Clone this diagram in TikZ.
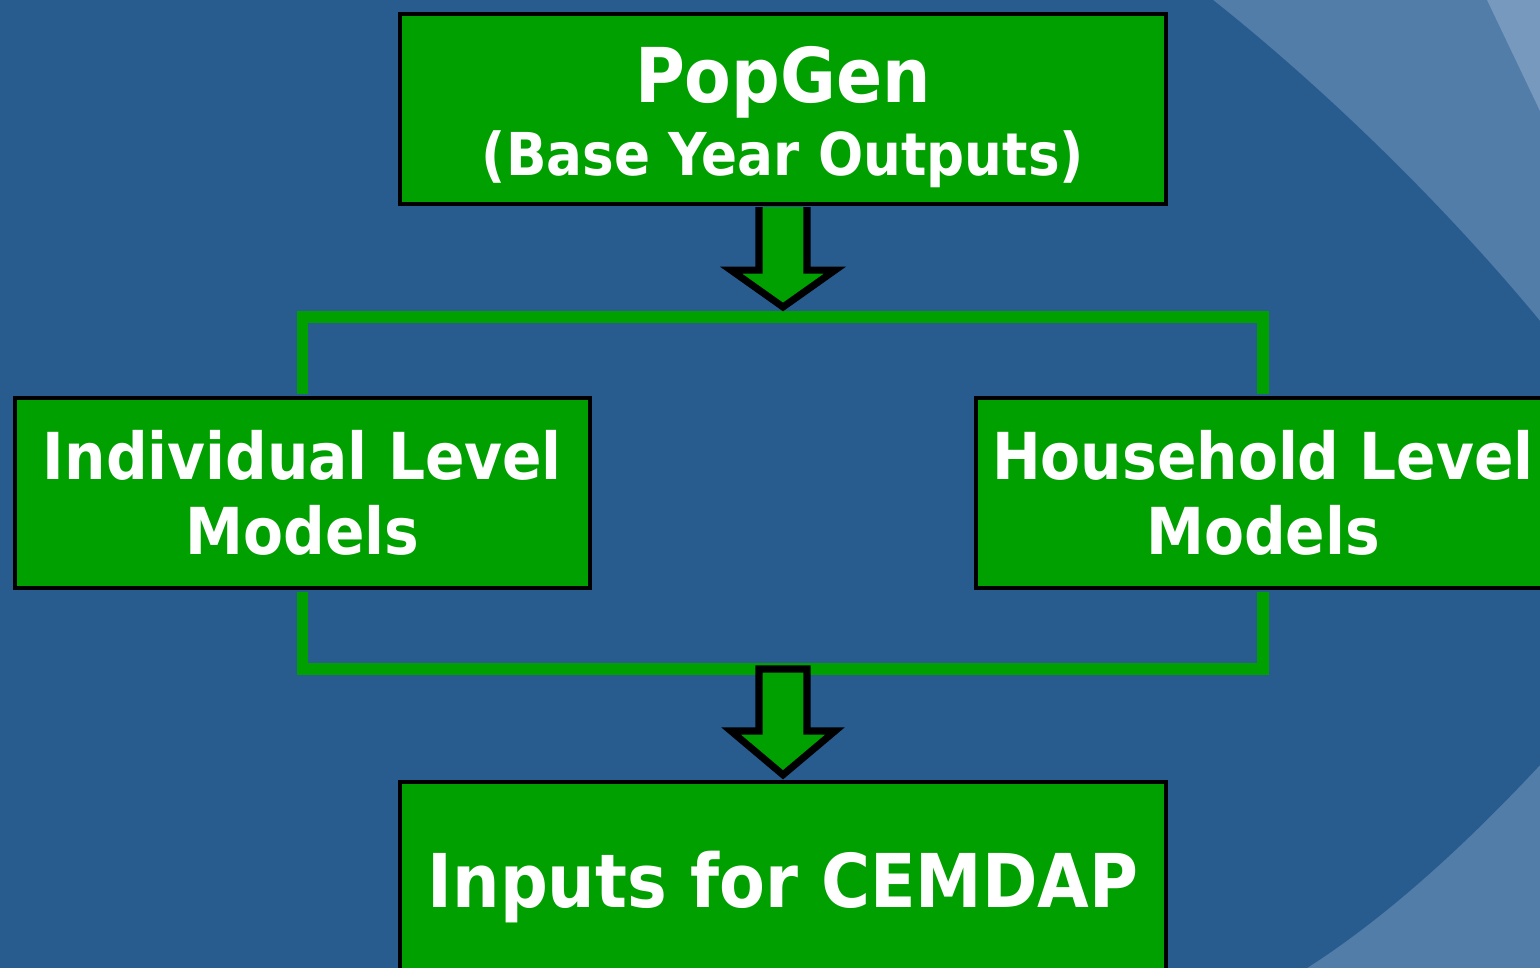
\documentclass[tikz,border=0pt]{standalone}
\usepackage{fontspec}
\setmainfont{DejaVu Sans Condensed}
\usetikzlibrary{calc,positioning}
\definecolor{boxgreen}{RGB}{0,160,0}
\definecolor{bgdark}{RGB}{40,92,143}
\definecolor{bgmid}{RGB}{81,125,168}
\definecolor{bglight}{RGB}{120,153,190}

\begin{document}
\begin{tikzpicture}[x=0.01cm,y=-0.01cm,
box/.style={draw=black,line width=1.2pt,fill=boxgreen,text=white,
  align=center,inner sep=0pt,minimum height=1.9cm},
bracket/.style={draw=boxgreen,line width=3.2pt},
blockarrow/.style={fill=boxgreen,draw=black,line width=2pt,line join=miter}]
\useasboundingbox (0,0) rectangle (1540,968);
\clip (0,0) rectangle (1540,968);
\fill[bgmid] (0,0) rectangle (1540,968);
\fill[bglight] (1487,0) -- (1540,0) -- (1540,111) -- cycle;
\fill[bgdark] (0,0) -- (1213,0) .. controls (1320,85) and (1440,200) .. (1540,321)
  -- (1540,765) .. controls (1470,840) and (1390,915) .. (1307,968) -- (0,968) -- cycle;

\node[box,minimum width=7.66cm,font=\fontsize{16.8}{20.8}\selectfont\bfseries] (popgen) at (783,109)
  {{\fontsize{21.5}{20.8}\selectfont\rule{0pt}{20.5pt}PopGen}\\(Base Year Outputs)};
\node[box,minimum width=5.75cm,font=\fontsize{18.4}{21.3}\selectfont\bfseries] (indiv) at (302.5,493)
  {Individual Level\\Models};
\node[box,minimum width=5.74cm,font=\fontsize{18.4}{21.3}\selectfont\bfseries] (house) at (1263,493)
  {Household Level\\Models};
\node[box,minimum width=7.66cm,minimum height=2.1cm,font=\fontsize{21.1}{24}\selectfont\bfseries] (cemdap) at (783,887)
  {Inputs for CEMDAP};

\coordinate (split) at (783,317);
\coordinate (join) at (783,669);
\draw[bracket] ([yshift=0.6pt]indiv.north) |- (split) -| ([yshift=0.6pt]house.north);
\draw[bracket] ([yshift=-0.6pt]indiv.south) |- (join) -| ([yshift=-0.6pt]house.south);

\filldraw[blockarrow] ($(popgen.south)+(-24,1)$) -- ++(0,63) -- ++(-28,0)
  -- ($(split)+(0,-10)$) -- ($(popgen.south)+(52,64)$) -- ++(-28,0) -- ++(0,-63);
\filldraw[blockarrow] ($(join)+(-24,0)$) -- ++(0,62) -- ++(-28,0)
  -- ($(cemdap.north)+(0,-5)$) -- ($(join)+(52,62)$) -- ++(-28,0) -- ++(0,-62) -- cycle;
\end{tikzpicture}
\end{document}
